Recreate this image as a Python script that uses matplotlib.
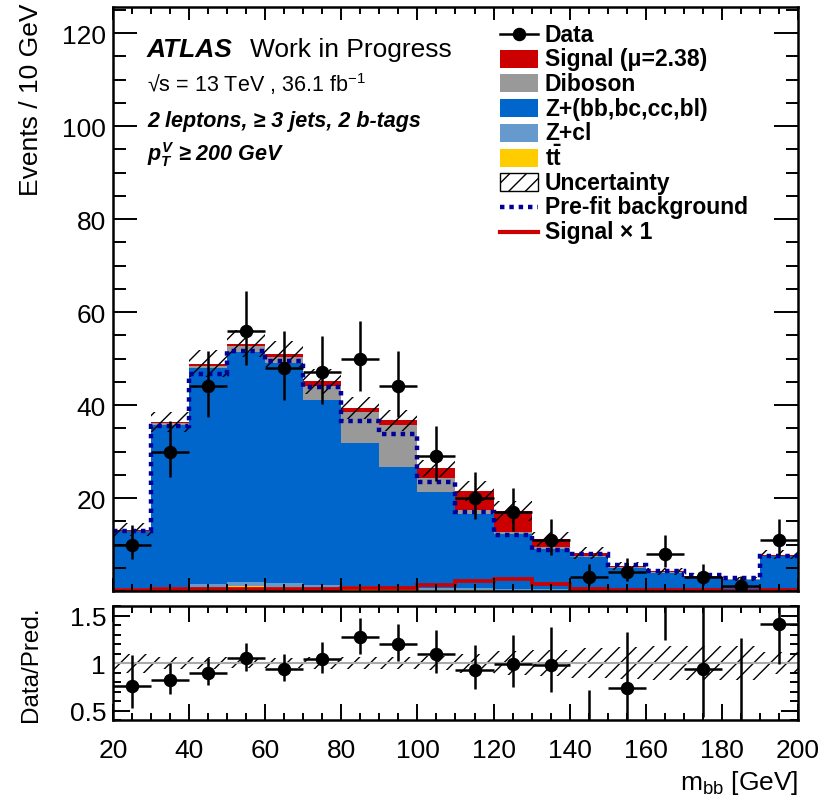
## m_bb distribution, 2 leptons >= 3 jets 2 b-tags, pTV >= 200 GeV

import numpy as np
import matplotlib
matplotlib.use("Agg")
import matplotlib.pyplot as plt
from matplotlib.patches import Rectangle
from matplotlib.lines import Line2D
from matplotlib.ticker import MultipleLocator

plt.rcParams['font.family'] = 'Liberation Sans'
plt.rcParams['mathtext.fontset'] = 'custom'
plt.rcParams['mathtext.rm'] = 'Liberation Sans'
plt.rcParams['mathtext.it'] = 'Liberation Sans:italic:bold'
plt.rcParams['mathtext.bf'] = 'Liberation Sans:bold'
plt.rcParams['hatch.linewidth'] = 1.0

### Dados
edges = np.arange(20, 201, 10)
data = np.array([10, 30, 44, 56, 48, 47, 50, 44, 29, 20, 17, 11, 3, 4, 8, 3, 1, 11])

ttbar = np.array([0.1, 0.2, 0.5, 1.0, 0.8, 0.5, 0.4, 0.3, 0.2, 0.2, 0.1, 0.1, 0.1, 0.05, 0.05, 0.05, 0.05, 0.05])
zcl = np.array([0.5, 0.7, 0.9, 0.9, 0.9, 0.8, 0.7, 0.6, 0.5, 0.4, 0.3, 0.3, 0.2, 0.2, 0.15, 0.1, 0.1, 0.2])
zhf = np.array([12.3, 34.9, 46.6, 49.5, 47.3, 39.7, 30.7, 25.8, 20.6, 15.9, 11.8, 8.6, 7.1, 4.75, 3.7, 2.85, 2.25, 7.25])
diboson = np.array([0.1, 0.3, 0.4, 1.2, 1.4, 3.1, 6.8, 9.0, 3.0, 1.0, 0.4, 0.5, 0.2, 0.1, 0.1, 0.1, 0.1, 0.1])
signal = np.array([0.2, 0.3, 0.5, 0.6, 0.6, 1.0, 0.8, 1.0, 2.1, 4.0, 4.6, 1.7, 0.6, 0.3, 0.2, 0.1, 0.1, 0.2])

prefit = np.array([13.0, 35.5, 46.7, 51.7, 49.5, 43.9, 36.6, 33.8, 23.4, 17.0, 12.0, 8.9, 7.9, 5.6, 4.2, 3.4, 2.8, 7.6])
signal_x1 = np.array([0.3, 0.4, 0.4, 0.5, 0.5, 0.5, 0.6, 0.6, 1.3, 2.2, 2.5, 1.5, 0.5, 0.3, 0.2, 0.2, 0.1, 0.2])
rel_unc = np.array([0.10, 0.06, 0.06, 0.055, 0.055, 0.06, 0.06, 0.06, 0.07, 0.10, 0.13, 0.14, 0.16, 0.17, 0.18, 0.18, 0.18, 0.12])

legend_labels = ['Data', 'Signal (\u03bc=2.38)', 'Diboson', 'Z+(bb,bc,cc,bl)', 'Z+cl',
                 r'$\mathbf{t\bar{t}}$', 'Uncertainty', 'Pre-fit background', 'Signal \u00d7 1']

c_sig = '#cc0000'
c_db = '#999999'
c_zhf = '#0066cc'
c_zcl = '#6699cc'
c_tt = '#ffcc00'
c_pre = '#000099'

centers = 0.5 * (edges[1:] + edges[:-1])
total = ttbar + zcl + zhf + diboson + signal
unc = rel_unc * total


## erros de Poisson (Garwood, aproximacao Wilson-Hilferty)
def chi2q(k, z):
    return k * (1 - 2 / (9 * k) + z * np.sqrt(2 / (9 * k))) ** 3

err_lo = data - 0.5 * chi2q(2 * data, -1.0)
err_up = 0.5 * chi2q(2 * data + 2, 1.0) - data

W, H = 837, 803
def fx(px):
    return px / W
def fy(py):
    return 1 - py / H

fig = plt.figure(figsize=(W / 100, H / 100), dpi=100)
ax = fig.add_axes([fx(113), fy(592), fx(798) - fx(113), fy(8) - fy(592)])
rax = fig.add_axes([fx(113), fy(721), fx(798) - fx(113), fy(607) - fy(721)])

## Stack
bottom = np.zeros(len(data))
for vals, col in [(ttbar, c_tt), (zcl, c_zcl), (zhf, c_zhf), (diboson, c_db), (signal, c_sig)]:
    ax.stairs(bottom + vals, edges, baseline=bottom, fill=True, color=col, lw=0)
    bottom = bottom + vals

ax.stairs(total + unc, edges, baseline=total - unc, fill=True, facecolor='none',
          edgecolor='black', hatch='//', lw=0)
ax.stairs(prefit, edges, baseline=None, color=c_pre, lw=3.2, linestyle=(0, (1, 1.1)))
ax.stairs(signal_x1, edges, baseline=None, color=c_sig, lw=2.7)
ax.errorbar(centers, data, xerr=5, yerr=[err_lo, err_up], fmt='o', color='black',
            ms=8.7, lw=1.8, capsize=0)

ax.set_xlim(20, 200)
ax.set_ylim(0, 125.6)
ax.set_yticks([20, 40, 60, 80, 100, 120])
ax.yaxis.set_minor_locator(MultipleLocator(5))
ax.xaxis.set_major_locator(MultipleLocator(20))
ax.xaxis.set_minor_locator(MultipleLocator(5))
ax.tick_params(which='both', direction='in', top=True, right=True, width=1.4, labelsize=19)
ax.tick_params(axis='x', which='major', length=9.5)
ax.tick_params(axis='x', which='minor', length=5)
ax.tick_params(axis='y', which='major', length=17, pad=5)
ax.tick_params(axis='y', which='minor', length=9)
ax.tick_params(axis='x', labelbottom=False)

## Razao
ratio = data / total
r_lo = err_lo / total
r_up = err_up / total
rax.stairs(1 + rel_unc, edges, baseline=1 - rel_unc, fill=True, facecolor='none',
           edgecolor='black', hatch='//', lw=0)
rax.axhline(1, color='#aaaaaa', lw=1.5)
rax.errorbar(centers, ratio, xerr=5, yerr=[r_lo, r_up], fmt='none', ecolor='black', lw=1.8, capsize=0)
inside = (ratio > 0.4) & (ratio < 1.6)
rax.plot(centers[inside], ratio[inside], 'o', color='black', ms=8.7)

rax.set_xlim(20, 200)
rax.set_ylim(0.4, 1.6)
rax.set_yticks([0.5, 1, 1.5])
rax.set_yticklabels(['0.5', '1', '1.5'])
rax.yaxis.set_minor_locator(MultipleLocator(0.1))
rax.xaxis.set_major_locator(MultipleLocator(20))
rax.xaxis.set_minor_locator(MultipleLocator(5))
rax.tick_params(which='both', direction='in', top=True, right=True, width=1.4, labelsize=19)
rax.tick_params(axis='x', which='major', length=11.5, pad=13)
rax.tick_params(axis='x', which='minor', length=5)
rax.tick_params(axis='y', which='major', length=12, pad=5)
rax.tick_params(axis='y', which='minor', length=6)

for a in (ax, rax):
    for s in a.spines.values():
        s.set_linewidth(1.8)

## Textos
fig.text(fx(31), fy(4), 'Events / 10 GeV', rotation=90, ha='center', va='top', fontsize=19)
fig.text(fx(31), fy(664), 'Data/Pred.', rotation=90, ha='center', va='center', fontsize=17.5)
fig.text(fx(798), fy(790), r'm$_{\mathrm{bb}}$ [GeV]', ha='right', va='baseline', fontsize=19)

fig.text(fx(147), fy(57), 'ATLAS', fontsize=19, fontweight='bold', fontstyle='italic', va='baseline')
fig.text(fx(250), fy(57), 'Work in Progress', fontsize=19, va='baseline')
fig.text(fx(147), fy(92), '\u221as = 13 TeV , 36.1 fb$^{\\mathrm{-1}}$', fontsize=15.5, va='baseline')
fig.text(fx(147), fy(127), '2 leptons, \u2265 3 jets, 2 b-tags', fontsize=15.5,
         fontweight='bold', fontstyle='italic', va='baseline')
fig.text(fx(147), fy(161), '$p_{T}^{V}$ \u2265 200 GeV', fontsize=15.5,
         fontweight='bold', fontstyle='italic', va='baseline')

## Legenda
bx0, bx1, bh = 500, 538, 18
for i, lab in enumerate(legend_labels):
    yc = 35 + 24.7 * i
    if i == 0:
        fig.add_artist(Line2D([fx(bx0), fx(bx1)], [fy(yc), fy(yc)], color='black', lw=1.8,
                              transform=fig.transFigure))
        fig.add_artist(Line2D([fx(0.5 * (bx0 + bx1))], [fy(yc)], marker='o', ms=8.7, color='black',
                              transform=fig.transFigure))
    elif i <= 5:
        col = [c_sig, c_db, c_zhf, c_zcl, c_tt][i - 1]
        fig.add_artist(Rectangle((fx(bx0), fy(yc + bh / 2)), fx(bx1) - fx(bx0), bh / H,
                                 facecolor=col, edgecolor='none', transform=fig.transFigure))
    elif i == 6:
        fig.add_artist(Rectangle((fx(bx0), fy(yc + bh / 2)), fx(bx1) - fx(bx0), bh / H,
                                 facecolor='white', edgecolor='black', hatch='//', lw=1.0,
                                 transform=fig.transFigure))
    elif i == 7:
        fig.add_artist(Line2D([fx(bx0), fx(bx1)], [fy(yc), fy(yc)], color=c_pre, lw=3.2,
                              linestyle=(0, (1, 1.1)), transform=fig.transFigure))
    else:
        fig.add_artist(Line2D([fx(bx0), fx(bx1)], [fy(yc), fy(yc)], color=c_sig, lw=3,
                              transform=fig.transFigure))
    fig.text(fx(545), fy(yc), lab, fontsize=16.5, fontweight='bold', va='center')

fig.savefig('out.png', dpi=100)
